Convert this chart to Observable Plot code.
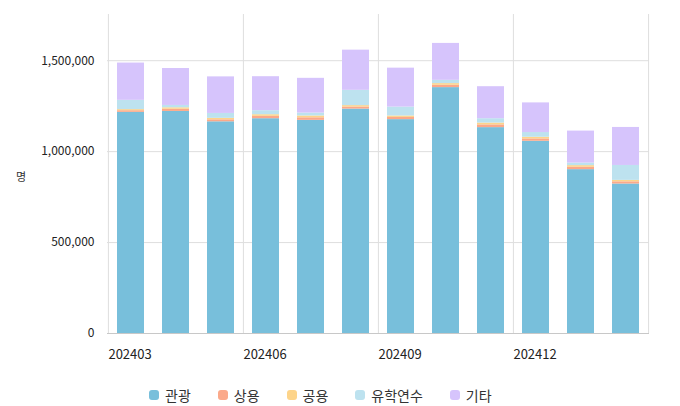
<!DOCTYPE html>
<html>
<head>
<meta charset="utf-8">
<script src="https://cdn.jsdelivr.net/npm/d3@7"></script>
<script src="https://cdn.jsdelivr.net/npm/@observablehq/plot@0.6"></script>
<style>
  body { margin: 0; background: #fff; font-family: "Noto Sans CJK KR", "Noto Sans", sans-serif; }
  #wrap { position: relative; width: 680px; height: 406px; }
  #ylabel { position: absolute; left: 16px; top: 168px; font-size: 11px; color: #333; }
  #legend { position: absolute; left: 149px; top: 385px; display: flex; font-size: 14px; color: #333; }
  .item { display: flex; align-items: center; margin-right: 27px; }
  .sw { width: 10px; height: 10px; border-radius: 3px; margin-right: 6px; }
</style>
</head>
<body>
<div id="wrap">
  <div id="chart"></div>
  <div id="ylabel">명</div>
  <div id="legend"></div>
</div>
<script>
const months = ["202403","202404","202405","202406","202407","202408","202409","202410","202411","202412","202501","202502"];
const tickMonths = ["202403","202406","202409","202412"];
const types = ["관광","상용","공용","유학연수","기타"];
const colors = ["#78bfdb","#fba98a","#fdd48a","#bde2ef","#d6c4fc"];
const tourism = [1216000,1221000,1164000,1181000,1172000,1234000,1176000,1352000,1132000,1057000,901000,822000];
const business = [9000,12000,11000,13000,14000,11000,12000,13000,15000,13000,13000,12000];
const official = [6000,8000,8000,9000,10000,8000,8000,9000,10000,9000,9000,8000];
const study = [51000,13000,27000,22000,16000,84000,49000,18000,24000,26000,14000,82000];
const other = [205000,203000,201000,187000,191000,221000,214000,203000,176000,163000,176000,209000];
const yTicks = [0,500000,1000000,1500000];

const series = [tourism, business, official, study, other];
const data = [];
months.forEach((m, i) => {
  types.forEach((t, j) => data.push({month: m, type: t, value: series[j][i]}));
});

const W = 680, ML = 107, MR = 31;
const step = (W - ML - MR) / months.length;

const chart = Plot.plot({
  width: W,
  height: 378,
  marginLeft: ML,
  marginRight: MR,
  marginTop: 14,
  marginBottom: 45,
  style: {fontFamily: '"Noto Sans CJK KR", "Noto Sans", sans-serif', fontSize: "12px", color: "#222"},
  x: {domain: months, paddingInner: 0.39, paddingOuter: 0.195, axis: null},
  y: {domain: [0, 1754000], axis: null},
  color: {domain: types, range: colors},
  marks: [
    Plot.ruleY(yTicks.slice(1), {stroke: "#dedede", strokeWidth: 1}),
    Plot.ruleX(tickMonths, {stroke: "#dedede", strokeWidth: 1, dx: -step / 2}),
    Plot.ruleX([months[months.length - 1]], {stroke: "#dedede", strokeWidth: 1, dx: step / 2}),
    Plot.barY(data, {x: "month", y: "value", fill: "type", order: types}),
    Plot.ruleY([0], {stroke: "#c8c8c8", strokeWidth: 1}),
    Plot.axisY({ticks: yTicks, tickFormat: d3.format(","), tickSize: 0, tickPadding: 13, label: null, fill: "#222"}),
    Plot.axisX({ticks: tickMonths, tickSize: 0, tickPadding: 16, textAnchor: "start", dx: -step / 2, label: null, fill: "#222", fontSize: 13})
  ]
});
document.getElementById("chart").appendChild(chart);

const legend = document.getElementById("legend");
types.forEach((t, i) => {
  const it = document.createElement("div");
  it.className = "item";
  it.innerHTML = `<span class="sw" style="background:${colors[i]}"></span><span>${t}</span>`;
  legend.appendChild(it);
});
</script>
</body>
</html>
